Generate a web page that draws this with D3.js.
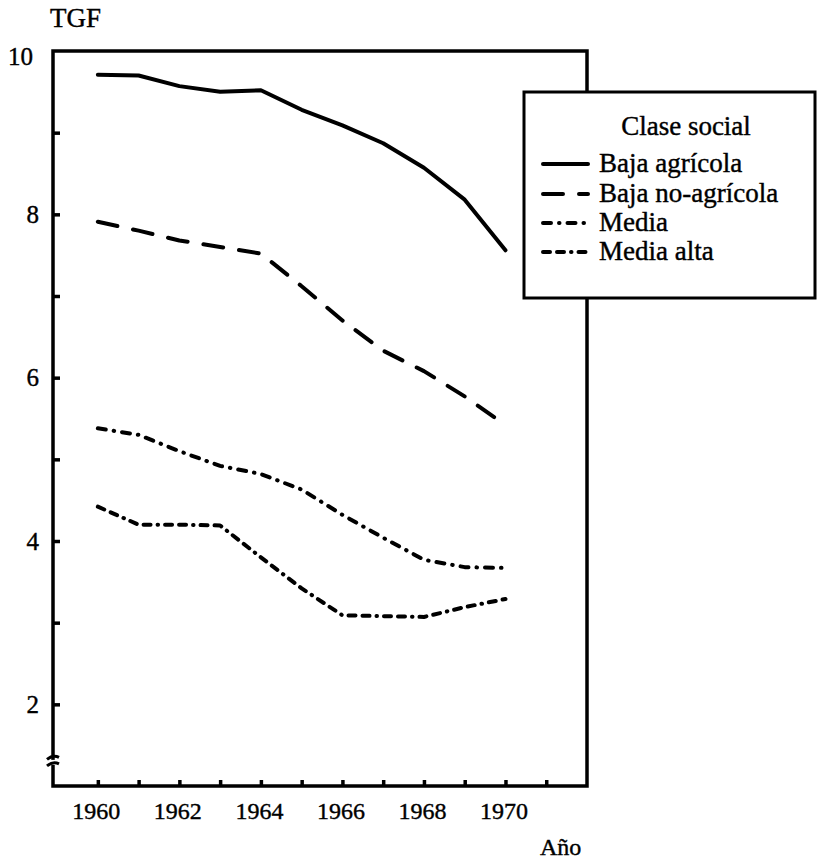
<!DOCTYPE html>
<html><head><meta charset="utf-8">
<script src="https://cdn.jsdelivr.net/npm/d3@7"></script>
<style>
body{margin:0;background:#fff}
svg{display:block}
svg text{font-family:"Liberation Serif","Times New Roman",serif !important;fill:#000;stroke:#000;stroke-width:0.4px}
</style></head>
<body><svg id="c" width="817" height="861"></svg>
<script>
const years=[1960,1961,1962,1963,1964,1965,1966,1967,1968,1969,1970];
const bajaAgricola=[9.71,9.70,9.57,9.50,9.52,9.28,9.09,8.87,8.57,8.18,7.56];
const bajaNoAgricola=[7.91,7.80,7.68,7.60,7.52,7.12,6.70,6.33,6.08,5.77,5.42];
const media=[5.38,5.30,5.10,4.92,4.82,4.63,4.32,4.04,3.77,3.68,3.67];
const mediaAlta=[4.42,4.20,4.20,4.19,3.80,3.42,3.09,3.08,3.07,3.19,3.29];
const seriesNames=["Baja agrícola","Baja no-agrícola","Media","Media alta"];
const seriesDash=["none","20,16","8,8,0.5,8","7,7,7,7,0.5,7"];
const xTickYears=[1960,1961,1962,1963,1964,1965,1966,1967,1968,1969,1970,1971];
const xLabelYears=[1960,1962,1964,1966,1968,1970];
const yTickValues=[2,3,4,5,6,7,8,9];
const yLabelValues=[2,4,6,8,10];
const legendTitle="Clase social";
const yTitle="TGF", xTitle="Año";

const svg=d3.select("#c");
const L=53,R=587,T=51,B=786;
const x=d3.scaleLinear().domain([1958.9,1972]).range([L,R]);
const y=d3.scaleLinear().domain([1,10]).range([B,T]);

// frame
svg.append("rect").attr("x",L).attr("y",T).attr("width",R-L).attr("height",B-T)
  .attr("fill","none").attr("stroke","#000").attr("stroke-width",3.5);

// x ticks (inward)
const xa=svg.append("g").attr("transform",`translate(0,${B})`)
  .call(d3.axisBottom(x).tickValues(xTickYears).tickSize(-6).tickFormat(""));
xa.select(".domain").remove();
xa.selectAll("line").attr("stroke","#000").attr("stroke-width",3.5);
// x labels
const xl=svg.append("g").attr("transform",`translate(0,${B})`)
  .call(d3.axisBottom(x).tickValues(xLabelYears).tickSize(0).tickPadding(16).tickFormat(d3.format("d")));
xl.select(".domain").remove();
xl.selectAll("text").attr("font-size",24).attr("dx",-2);

// y ticks (inward)
const ya=svg.append("g").attr("transform",`translate(${L},0)`)
  .call(d3.axisLeft(y).tickValues(yTickValues).tickSize(-7).tickFormat(""));
ya.select(".domain").remove();
ya.selectAll("line").attr("stroke","#000").attr("stroke-width",3.5);
// y labels
const yl=svg.append("g").attr("transform",`translate(${L},0)`)
  .call(d3.axisLeft(y).tickValues(yLabelValues).tickSize(0).tickPadding(14).tickFormat(d3.format("d")));
yl.select(".domain").remove();
yl.selectAll("text").attr("font-size",25)
  .attr("dx",d=>d===10?-6:0).attr("dy",d=>d===10?"0.55em":"0.32em");

// axis break
svg.append("rect").attr("x",L-4).attr("y",y(1.32)).attr("width",8).attr("height",5).attr("fill","#fff");
[y(1.35),y(1.27)].forEach(yy=>{
  svg.append("path").attr("d",`M${L-6},${yy+2} Q${L},${yy-3} ${L+6},${yy}`)
    .attr("fill","none").attr("stroke","#000").attr("stroke-width",3);
});

// titles
svg.append("text").attr("x",50).attr("y",27).attr("font-size",27).text(yTitle);
svg.append("text").attr("x",540).attr("y",855).attr("font-size",24).text(xTitle);

// lines
const allSeries=[bajaAgricola,bajaNoAgricola,media,mediaAlta];
const line=d3.line().x((d,i)=>x(years[i])).y(d=>y(d));
allSeries.forEach((s,k)=>{
  svg.append("path").datum(s).attr("d",line).attr("fill","none").attr("stroke","#000")
    .attr("stroke-width",4).attr("stroke-linecap","round").attr("stroke-linejoin","round")
    .attr("stroke-dasharray",seriesDash[k]);
});

// legend
const lg=svg.append("g");
lg.append("rect").attr("x",524).attr("y",92).attr("width",291).attr("height",206)
  .attr("fill","#fff").attr("stroke","#000").attr("stroke-width",3);
lg.append("text").attr("x",686).attr("y",135).attr("text-anchor","middle").attr("font-size",27).text(legendTitle);
const rowsY=[172,202,231,260];
seriesNames.forEach((n,k)=>{
  const by=rowsY[k];
  lg.append("line").attr("x1",543).attr("x2",588).attr("y1",by-8).attr("y2",by-8)
    .attr("stroke","#000").attr("stroke-width",4).attr("stroke-linecap","round")
    .attr("stroke-dasharray",seriesDash[k]);
  lg.append("text").attr("x",599).attr("y",by).attr("font-size",27).text(n);
});
</script></body></html>
